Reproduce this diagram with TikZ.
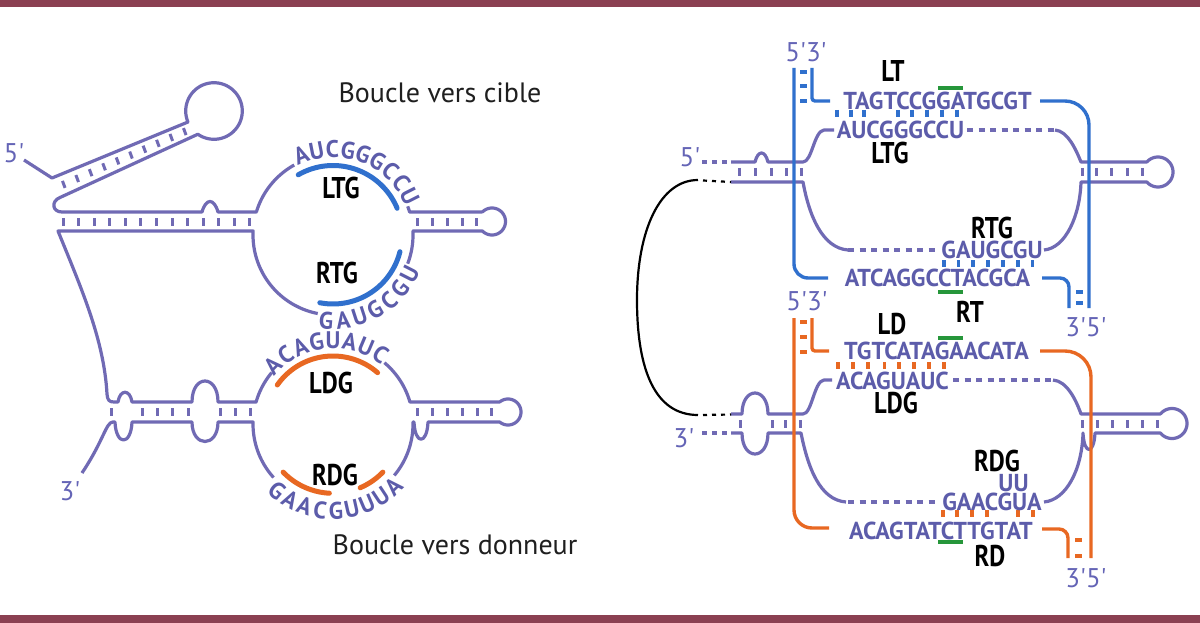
\documentclass[tikz,border=0pt]{standalone}
\usepackage{fontspec}
\setmainfont{PT Sans}
\newfontfamily\seqf[FakeStretch=0.98]{PT Sans}
\newfontfamily\labf[FakeStretch=0.82]{PT Sans}
\definecolor{barc}{RGB}{139,64,82}
\definecolor{strand}{RGB}{112,106,180}
\definecolor{seqc}{RGB}{92,92,170}
\definecolor{endc}{RGB}{100,100,182}
\definecolor{tblue}{RGB}{48,112,205}
\definecolor{dorange}{RGB}{232,104,34}
\definecolor{gbar}{RGB}{38,150,58}
\tikzset{
  strandline/.style={draw=strand,line width=3.2pt,line join=round},
  dotline/.style={draw=strand,line width=3.2pt,dash pattern=on 6pt off 5.5pt},
  enddots/.style={draw=strand,line width=3.2pt,dash pattern=on 5pt off 5pt},
  tickm/.style={draw=strand,line width=3pt},
  blueline/.style={draw=tblue,line width=3.4pt},
  orangeline/.style={draw=dorange,line width=3.4pt},
  bluepair/.style={draw=tblue,line width=3.2pt},
  orangepair/.style={draw=dorange,line width=3.2pt},
  hlblue/.style={draw=tblue,line width=5pt,line cap=round},
  hlorange/.style={draw=dorange,line width=5pt,line cap=round},
  greenbar/.style={draw=gbar,line width=3.5pt},
  blackcurve/.style={draw=black,line width=2.2pt},
  blackdots/.style={draw=black,line width=2.2pt,dash pattern=on 4pt off 5pt},
  seqtxt/.style={text=seqc,font=\seqf\bfseries\fontsize{24.5}{24.5}\selectfont,inner sep=0pt},
  arcl/.style={text=seqc,font=\seqf\bfseries\fontsize{24}{24}\selectfont,inner sep=0pt},
  labtxt/.style={text=black,font=\labf\bfseries\fontsize{30}{30}\selectfont,inner sep=0pt},
  endtxt/.style={text=endc,font=\fontsize{27}{27}\selectfont,inner sep=0pt},
  bouctxt/.style={text=black!88,font=\fontsize{28}{28}\selectfont,inner sep=0pt},
}
\begin{document}
\begin{tikzpicture}[x=1pt,y=-1pt]
\useasboundingbox (0,0) rectangle (1200,623);
\fill[white] (0,0) rectangle (1200,623);
\fill[barc] (0,0) rectangle (1200,7);
\fill[barc] (0,615) rectangle (1200,623);

% ================= LEFT DIAGRAM =================
\draw[strandline] (24,160) -- (52,178) -- (188,122)
  -- plot[domain=157:484.8,samples=60] ({214+28.3*cos(\x)},{111+28.3*sin(\x)})
  -- (60,197.5) .. controls (51,201) and (52,212) .. (62,212)
  -- (202,212) .. controls (206,198) and (214,198) .. (218,212)
  -- (256.4,212)
  -- plot[domain=196.7:241,samples=30] ({333+80*cos(\x)},{235+80*sin(\x)});
\draw[strandline] plot[domain=-21:-16.7,samples=5] ({333+80*cos(\x)},{235+80*sin(\x)})
  -- (482.4,212)
  -- plot[domain=224.7:495.3,samples=50] ({492+13.5*cos(\x)},{221.5+13.5*sin(\x)})
  -- (412.9,231)
  -- plot[domain=-2.9:21,samples=20] ({333+80*cos(\x)},{235+80*sin(\x)});
\draw[strandline] plot[domain=101:182.9,samples=30] ({333+80*cos(\x)},{235+80*sin(\x)})
  -- (58,231) .. controls (82,290) and (104,340) .. (107,394)
  .. controls (107.5,400) and (109,402) .. (114,402)
  -- (118,402) .. controls (120,389) and (130,389) .. (132,402)
  -- (192,402) .. controls (192,374) and (218,374) .. (218,402)
  -- (256.1,402)
  -- plot[domain=196:220,samples=15] ({333+80*cos(\x)},{424+80*sin(\x)});
\draw[strandline] plot[domain=-50:-16,samples=20] ({333+80*cos(\x)},{424+80*sin(\x)})
  -- (499.7,402)
  -- plot[domain=230.3:489.7,samples=50] ({508+13*cos(\x)},{412+13*sin(\x)})
  -- (428,422) .. controls (427,445) and (415,445) .. (414,422)
  -- plot[domain=-1.4:40,samples=20] ({333+80*cos(\x)},{424+80*sin(\x)});
\draw[strandline] plot[domain=138:181.4,samples=20] ({333+80*cos(\x)},{424+80*sin(\x)})
  -- (218,422) .. controls (218,448) and (192,448) .. (192,422)
  -- (132,422) .. controls (131,446) and (116,446) .. (115,422)
  -- (113,422) .. controls (106,422) and (104,440) .. (82,473);

% ticks left
\foreach \i in {0,...,9} {\pgfmathsetmacro\s{0.06+0.0978*\i}
  \draw[tickm] ({55.5+137.5*\s-1.3},{188-60*\s-3.5}) -- ({55.5+137.5*\s+1.3},{188-60*\s+3.5});}
\foreach \p in {0,...,12} \draw[tickm] ({63+15.58*\p},218) -- ({63+15.58*\p},226);
\foreach \p in {417,432,447,462,476} \draw[tickm] (\p,218) -- (\p,226);
\foreach \p in {111,142,157,172,188,220,235,250} \draw[tickm] (\p,408) -- (\p,416);
\foreach \p in {417,432,447,462,477,491} \draw[tickm] (\p,408) -- (\p,416);

% highlight arcs
\draw[hlblue] plot[domain=-120:-22.6,samples=40] ({333+69.5*cos(\x)},{235+69.5*sin(\x)});
\draw[hlblue] plot[domain=14:101,samples=40] ({333+69*cos(\x)},{235+69*sin(\x)});
\draw[hlorange] plot[domain=-145:-49,samples=40] ({333+68*cos(\x)},{424+68*sin(\x)});
\draw[hlorange] plot[domain=93:136,samples=20] ({333+69.3*cos(\x)},{424+69.3*sin(\x)});
\draw[hlorange] plot[domain=44:67,samples=15] ({333+69.3*cos(\x)},{424+69.3*sin(\x)});

% arc letters
\foreach \c [count=\i from 0] in {A,U,C,G,G,G,C,C,U}
  \node[arcl, rotate={21.7-10.6*\i}] (tga\i) at ({333+86*cos(-111.7+10.6*\i)},{235+86*sin(-111.7+10.6*\i)}) {\c};
\foreach \c [count=\i from 0] in {G,A,U,G,C,G,U}
  \node[arcl, rotate={-4.5+11.25*\i}] (tgb\i) at ({333+86*cos(94.5-11.25*\i)},{235+86*sin(94.5-11.25*\i)}) {\c};
\foreach \c [count=\i from 0] in {A,C,A,G,U,A,U,C}
  \node[arcl, rotate={45.8-11.47*\i}] (dga\i) at ({333+84*cos(-135.8+11.47*\i)},{424+84*sin(-135.8+11.47*\i)}) {\c};
\foreach \c [count=\i from 0] in {G,A,A,C,G,U,U,U,A}
  \node[arcl, rotate={-40+10.5*\i}] (dgb\i) at ({333+87*cos(130-10.5*\i)},{424+87*sin(130-10.5*\i)}) {\c};

\node[labtxt] (ltgL) at (341,188) {LTG};
\node[labtxt] (rtgL) at (337,273) {RTG};
\node[labtxt] (ldgL) at (331,383) {LDG};
\node[labtxt] (rdgL) at (335,475) {RDG};
\node[bouctxt] (bc) at (440,93) {Boucle vers cible};
\node[bouctxt] (bd) at (455,545) {Boucle vers donneur};
\node[endtxt] (l5) at (14,153) {5\textquotesingle};
\node[endtxt] (l3) at (70,491) {3\textquotesingle};

% ================= RIGHT DIAGRAM =================
% target loop
\draw[enddots] (702,162) -- (731,162);
\draw[strandline] (731,162) -- (755,162) .. controls (758,150) and (765,150) .. (768,162)
  -- (803,162) .. controls (812,162) and (814,131) .. (824,130) -- (834,130);
\draw[dotline] (967,130) -- (1055,130);
\draw[strandline] (1055,130) .. controls (1068,131) and (1076,150) .. (1081,162) -- (1146.8,162)
  -- plot[domain=221.8:498.2,samples=50] ({1158+15*cos(\x)},{172+15*sin(\x)})
  -- (1081,182) .. controls (1080,215) and (1066,248) .. (1044,250);
\draw[strandline] (731,182) -- (803,182) .. controls (809,215) and (822,248) .. (848,250);
\draw[dotline] (848,250) -- (938,250);

% donor loop
\draw[enddots] (702,433) -- (731,433);
\draw[strandline] (731,414) -- (742,414) .. controls (742,386) and (768,386) .. (768,414)
  -- (803,414) .. controls (812,414) and (814,381) .. (824,380) -- (832,380);
\draw[dotline] (953,380) -- (1053,380);
\draw[strandline] (1053,380) .. controls (1067,381) and (1076,400) .. (1081,414) -- (1160.4,414)
  -- plot[domain=219.3:500.7,samples=50] ({1172+15*cos(\x)},{423.5+15*sin(\x)})
  -- (1095,433) .. controls (1094,455) and (1084,455) .. (1083,433)
  .. controls (1082,470) and (1066,500) .. (1044,502);
\draw[strandline] (731,433) -- (742,433) .. controls (742,461) and (768,461) .. (768,433)
  -- (801,433) .. controls (808,468) and (820,500) .. (846,502);
\draw[dotline] (848,502) -- (936,502);

% ticks right
\foreach \p in {739,755,771,786,801} \draw[tickm] (\p,168) -- (\p,176);
\foreach \p in {1082,1096,1111,1127,1142} \draw[tickm] (\p,168) -- (\p,176);
\foreach \p in {740,772,785,800} \draw[tickm] (\p,420) -- (\p,428);
\foreach \p in {1082,1097,1112,1127,1142,1157} \draw[tickm] (\p,420) -- (\p,428);

% black link
\draw[blackcurve] (698,180) .. controls (660,180) and (637,230) .. (637,300)
  .. controls (637,370) and (655,415) .. (698,415);
\draw[blackdots] (703,180.5) -- (731,182);
\draw[blackdots] (703,415) -- (731,414.5);

% target DNA (blue)
\draw[blueline, rounded corners=14pt] (794,68) -- (794,278) -- (828,278);
\draw[blueline, rounded corners=3pt] (812,68) -- (812,101) -- (830,101);
\foreach \p in {72,86,101} \draw[bluepair] (800,\p) -- (807,\p);
\draw[blueline, rounded corners=24pt] (1040,101) -- (1089,101) -- (1089,308);
\draw[blueline, rounded corners=9pt] (1042,278) -- (1069,278) -- (1069,308);
\foreach \p in {292,303} \draw[bluepair] (1076,\p) -- (1083,\p);

% donor DNA (orange)
\draw[orangeline, rounded corners=18pt] (794,318) -- (794,528) -- (829,528);
\draw[orangeline, rounded corners=3pt] (812,318) -- (812,351) -- (829,351);
\foreach \p in {322,337,352} \draw[orangepair] (800,\p) -- (807,\p);
\draw[orangeline, rounded corners=26pt] (1040,351) -- (1091,351) -- (1091,558);
\draw[orangeline, rounded corners=9pt] (1042,529) -- (1068,529) -- (1068,558);
\foreach \p in {540,556} \draw[orangepair] (1075,\p) -- (1082,\p);

% pairing dashes
\foreach \p in {837,851,864,898,912,927,942,957} \draw[bluepair] (\p,110) -- (\p,117);
\foreach \p in {944,958.5,973,988,1003,1018,1032.5} \draw[bluepair] (\p,260) -- (\p,267);
\foreach \p in {838,853,868,884.5,899,914,929,944} \draw[orangepair] (\p,362) -- (\p,369);
\foreach \p in {943,957,972,987,1018,1033} \draw[orangepair] (\p,510) -- (\p,517);

% green bars
\draw[greenbar] (938,88) -- (963,88);
\draw[greenbar] (938,292) -- (963,292);
\draw[greenbar] (938,338) -- (963,338);
\draw[greenbar] (938,542) -- (963,542);

% sequences
\node[seqtxt] (s1) at (937.5,101) {TAGTCCGGATGCGT};
\node[seqtxt] (s2) at (900.5,130) {AUCGGGCCU};
\node[seqtxt] (s3) at (992,250) {GAUGCGU};
\node[seqtxt] (s4) at (937.5,278) {ATCAGGCCTACGCA};
\node[seqtxt] (s5) at (936.5,351) {TGTCATAGAACATA};
\node[seqtxt] (s6) at (892.5,381) {ACAGUAUC};
\node[seqtxt] (s7) at (1013.5,483) {UU};
\node[seqtxt] (s8) at (992,502) {GAACGUA};
\node[seqtxt] (s9) at (941,531) {ACAGTATCTTGTAT};

% labels
\node[labtxt] (lt) at (893,71) {LT};
\node[labtxt] (ltg) at (890,153) {LTG};
\node[labtxt] (rtg) at (992,228) {RTG};
\node[labtxt] (rt) at (970,312) {RT};
\node[labtxt] (ld) at (892,324) {LD};
\node[labtxt] (ldg) at (896,403) {LDG};
\node[labtxt] (rdg) at (997,461) {RDG};
\node[labtxt] (rd) at (990,556) {RD};

\node[endtxt] (r5) at (690,157) {5\textquotesingle};
\node[endtxt] (r3) at (684,438) {3\textquotesingle};
\node[endtxt] (t53) at (806,52) {5\textquotesingle 3\textquotesingle};
\node[endtxt] (d53) at (807,301) {5\textquotesingle 3\textquotesingle};
\node[endtxt] (t35) at (1086,327) {3\textquotesingle 5\textquotesingle};
\node[endtxt] (d35) at (1086,578) {3\textquotesingle 5\textquotesingle};
\end{tikzpicture}
\end{document}
